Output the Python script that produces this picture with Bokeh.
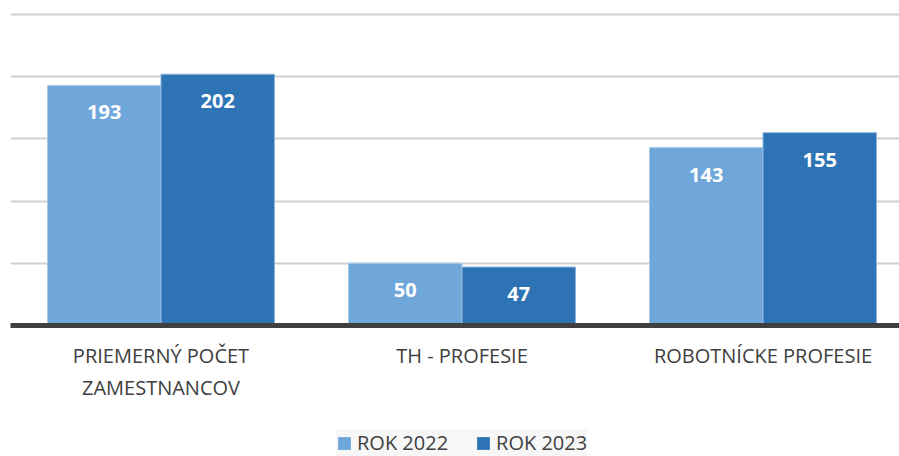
import numpy as np
from bokeh.plotting import figure
from bokeh.layouts import column
from bokeh.models import Range1d, FixedTicker, Legend, LegendItem, ColumnDataSource
from bokeh.core.properties import value
from bokeh.embed import file_html
from bokeh.resources import INLINE

categories = ["PRIEMERNÝ POČET\nZAMESTNANCOV", "TH - PROFESIE", "ROBOTNÍCKE PROFESIE"]
series_names = ["ROK 2022", "ROK 2023"]
rok_2022 = [193, 50, 143]
rok_2023 = [202, 47, 155]
y_ticks = [0, 50, 100, 150, 200, 250]

c2022 = "#6FA7DB"
c2023 = "#2E74B5"
FONT = "Open Sans"

centers = np.arange(len(categories)) + 0.5
bw = 0.377

p = figure(frame_width=889, frame_height=316, output_backend="svg", toolbar_location=None,
           x_range=Range1d(0, 889 / 301), y_range=Range1d(0, 254),
           min_border_left=10, min_border_right=0, min_border_top=9, min_border_bottom=80)
p.outline_line_color = None
p.background_fill_color = "white"
p.border_fill_color = "white"

s1 = ColumnDataSource(dict(x=centers - bw / 2, top=rok_2022, lab=[str(v) for v in rok_2022]))
s2 = ColumnDataSource(dict(x=centers + bw / 2, top=rok_2023, lab=[str(v) for v in rok_2023]))

p.vbar(x="x", top="top", width=bw, source=s1, fill_color=c2022,
       line_color="#A9CBEA", line_width=1)
p.vbar(x="x", top="top", width=bw, source=s2, fill_color=c2023,
       line_color="#8DB4DD", line_width=1)

for s in (s1, s2):
    p.text(x="x", y="top", text="lab", source=s, y_offset=27,
           text_align="center", text_baseline="middle", text_color="white",
           text_font=value(FONT), text_font_style="bold", text_font_size="20px")

p.yaxis.visible = False
p.ygrid.ticker = FixedTicker(ticks=y_ticks)
p.ygrid.grid_line_color = "#D0D0D0"
p.ygrid.grid_line_width = 2
p.xgrid.visible = False

ax = p.xaxis[0]
ax.ticker = FixedTicker(ticks=list(centers))
ax.major_label_overrides = {float(c): lab for c, lab in zip(centers, categories)}
ax.axis_line_color = "#404040"
ax.axis_line_width = 5
ax.major_tick_line_color = None
ax.minor_tick_line_color = None
ax.major_label_standoff = 10
ax.major_label_text_font = FONT
ax.major_label_text_font_size = "20px"
ax.major_label_text_color = "#404040"

# legend strip (same frame alignment as the chart)
pl = figure(frame_width=889, frame_height=456 - 405, output_backend="svg", toolbar_location=None,
            x_range=Range1d(0, 1), y_range=Range1d(0, 1),
            x_axis_location=None, y_axis_location=None,
            min_border_left=10, min_border_right=0, min_border_top=0, min_border_bottom=0)
pl.outline_line_color = None
pl.xgrid.visible = False
pl.ygrid.visible = False
key_src = ColumnDataSource(dict(x=[0.5], top=[1.0]))
g1 = pl.vbar(x="x", top="top", width=0, source=key_src, fill_color=c2022, line_color=None)
g2 = pl.vbar(x="x", top="top", width=0, source=key_src, fill_color=c2023, line_color=None)

pad = 12
legend = Legend(items=[LegendItem(label=series_names[0], renderers=[g1]),
                       LegendItem(label=series_names[1], renderers=[g2])],
                orientation="horizontal", location=(326, 0),
                background_fill_color="#F7F7F7", background_fill_alpha=1,
                border_line_color=None, glyph_width=16, glyph_height=16,
                label_standoff=5, spacing=27, padding=pad, margin=0,
                label_text_font=FONT, label_text_font_size="20px",
                label_text_color="#404040")
pl.add_layout(legend, "center")

open("out.html", "w").write(file_html(column(p, pl, spacing=0), INLINE))
